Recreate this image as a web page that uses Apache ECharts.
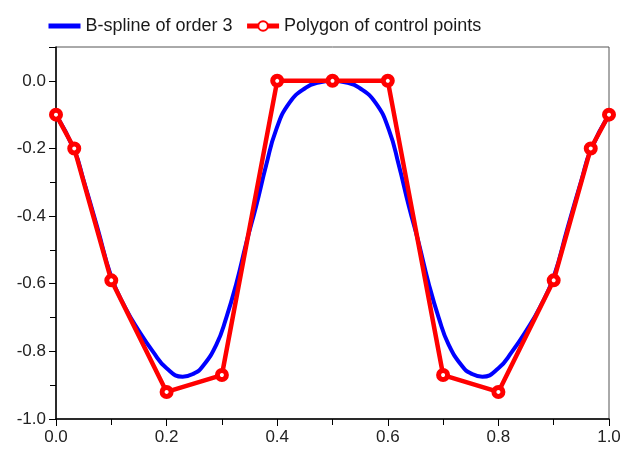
<!DOCTYPE html>
<html>
<head>
<meta charset="utf-8">
<script src="https://cdn.jsdelivr.net/npm/echarts@6/dist/echarts.min.js"></script>
<style>
html, body { margin: 0; padding: 0; background: #fff; }
#chart { width: 625px; height: 450px; }
</style>
</head>
<body>
<div id="chart"></div>
<script>
// control points of the polygon
const ctrlX = [0, 0.033, 0.1, 0.2, 0.3, 0.4, 0.5, 0.6, 0.7, 0.8, 0.9, 0.967, 1];
const ctrlY = [-0.1, -0.2, -0.59, -0.92, -0.87, 0, 0, 0, -0.87, -0.92, -0.59, -0.2, -0.1];

// points
const splineX = [0, 0.033, 0.05, 0.075, 0.1, 0.125, 0.15, 0.175, 0.2, 0.229, 0.25, 0.265, 0.29, 0.308, 0.326, 0.344, 0.362, 0.38, 0.398, 0.422, 0.452, 0.475, 0.5,
	0.525, 0.548, 0.578, 0.602, 0.62, 0.638, 0.656, 0.674, 0.692, 0.71, 0.735, 0.75, 0.771, 0.8, 0.825, 0.85, 0.875, 0.9, 0.925, 0.95, 0.967, 1];
const splineY = [-0.1, -0.205, -0.295, -0.435, -0.58, -0.67, -0.74, -0.8, -0.85, -0.875, -0.865, -0.845, -0.78, -0.7, -0.6, -0.48, -0.37, -0.25, -0.145, -0.065, -0.02, -0.005, 0,
	-0.005, -0.02, -0.065, -0.145, -0.25, -0.37, -0.48, -0.6, -0.7, -0.78, -0.845, -0.865, -0.875, -0.85, -0.8, -0.74, -0.67, -0.58, -0.435, -0.295, -0.205, -0.1];

const seriesNames = ['B-spline of order 3', 'Polygon of control points'];

const chart = echarts.init(document.getElementById('chart'));
const font = 'Liberation Sans, Arial, sans-serif';

chart.setOption({
	animation: false,
	backgroundColor: '#fff',
	legend: {
		top: 12,
		left: 41,
		itemWidth: 32,
		itemHeight: 12,
		itemGap: 12,
		textStyle: { color: '#1a1a1a', fontSize: 18, fontFamily: font },
		data: [
			{ name: seriesNames[0], itemStyle: { opacity: 0 }, lineStyle: { width: 5 } }, // line only, no marker
			{ name: seriesNames[1], lineStyle: { width: 5 } }
		]
	},
	grid: {
		left: 56,
		right: 16,
		top: 47,
		bottom: 31,
		show: true,
		borderColor: '#555',
		borderWidth: 1
	},
	xAxis: {
		type: 'value',
		min: 0,
		max: 1,
		interval: 0.2,
		axisLine: { onZero: false, lineStyle: { color: '#000', width: 1.5 } },
		axisTick: { show: true, inside: false, length: 7, lineStyle: { color: '#000' } },
		minorTick: { show: true, splitNumber: 2, length: 6, lineStyle: { color: '#000' } },
		splitLine: { show: false },
		axisLabel: {
			color: '#222',
			fontSize: 17,
			fontFamily: font,
			margin: 10,
			formatter: v => v.toFixed(1)
		}
	},
	yAxis: {
		type: 'value',
		min: -1,
		max: 0.1,
		interval: 0.2,
		axisLine: { show: true, onZero: false, lineStyle: { color: '#000', width: 1.5 } },
		axisTick: { show: true, inside: false, length: 7, lineStyle: { color: '#000' } },
		minorTick: { show: true, splitNumber: 2, length: 6, lineStyle: { color: '#000' } },
		splitLine: { show: false },
		axisLabel: {
			color: '#222',
			fontSize: 17,
			fontFamily: font,
			margin: 10,
			showMaxLabel: false,
			formatter: v => v.toFixed(1)
		}
	},
	series: [
		{
			name: seriesNames[0],
			type: 'line',
			data: splineX.map((x, i) => [x, splineY[i]]),
			showSymbol: false,
			symbol: 'none',
			smooth: 0.5,
			lineStyle: { color: '#0000ff', width: 4 },
			itemStyle: { color: '#0000ff' },
			z: 2
		},
		{
			name: seriesNames[1],
			type: 'line',
			data: ctrlX.map((x, i) => [x, ctrlY[i]]),
			symbol: 'circle',
			symbolSize: 9,
			lineStyle: { color: '#ff0000', width: 4.5 },
			itemStyle: { color: '#ffffff', borderColor: '#ff0000', borderWidth: 5 },
			z: 3
		}
	]
});
</script>
</body>
</html>
